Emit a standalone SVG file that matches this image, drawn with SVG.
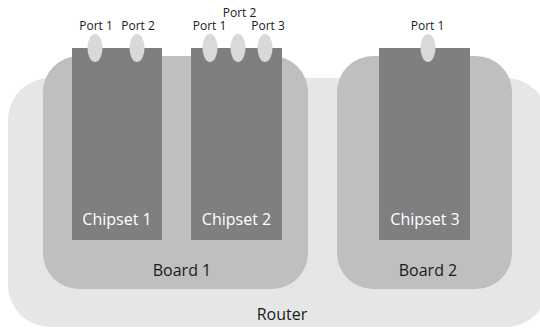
<svg xmlns="http://www.w3.org/2000/svg" width="540" height="331" viewBox="0 0 540 331">
<style>
text{font-family:"Open Sans","Liberation Sans",sans-serif;text-anchor:middle}
.router{fill:#e6e6e6}
.board{fill:#bfbfbf}
.chip{fill:#7f7f7f}
.port{fill:#d9d9d9}
.lbl{font-size:16px;fill:#1a1a1a}
.clbl{font-size:16px;fill:#ffffff}
.plbl{font-size:12px;fill:#1a1a1a}
</style>
<rect width="540" height="331" fill="#ffffff"/>
<g id="router">
<rect class="router" x="8" y="78" width="540" height="249" rx="42" ry="42"/>
<text class="lbl" x="282" y="320">Router</text>
</g>
<g id="board1">
<rect class="board" x="43" y="56" width="265" height="233" rx="36" ry="36"/>
<text class="lbl" x="182" y="276">Board 1</text>
</g>
<g id="board2">
<rect class="board" x="337" y="56" width="175" height="233" rx="36" ry="36"/>
<text class="lbl" x="428" y="276">Board 2</text>
</g>
<g id="chipset1">
<rect class="chip" x="72" y="48" width="90" height="192"/>
<text class="clbl" x="117" y="225">Chipset 1</text>
</g>
<g id="chipset2">
<rect class="chip" x="191" y="48" width="91" height="192"/>
<text class="clbl" x="236.5" y="225">Chipset 2</text>
</g>
<g id="chipset3">
<rect class="chip" x="379" y="48" width="91" height="192"/>
<text class="clbl" x="425" y="225">Chipset 3</text>
</g>
<g id="c1port1">
<ellipse class="port" cx="95" cy="48" rx="7.5" ry="14"/>
<text class="plbl" x="96" y="30">Port 1</text>
</g>
<g id="c1port2">
<ellipse class="port" cx="137" cy="48" rx="7.5" ry="14"/>
<text class="plbl" x="138" y="30">Port 2</text>
</g>
<g id="c2port1">
<ellipse class="port" cx="210" cy="48" rx="7.5" ry="14"/>
<text class="plbl" x="209.5" y="30">Port 1</text>
</g>
<g id="c2port2">
<ellipse class="port" cx="238" cy="48" rx="7.5" ry="14"/>
<text class="plbl" x="239.5" y="17">Port 2</text>
</g>
<g id="c2port3">
<ellipse class="port" cx="265" cy="48" rx="7.5" ry="14"/>
<text class="plbl" x="268" y="30">Port 3</text>
</g>
<g id="c3port1">
<ellipse class="port" cx="428" cy="48" rx="7.5" ry="14"/>
<text class="plbl" x="427.5" y="30">Port 1</text>
</g>
</svg>
